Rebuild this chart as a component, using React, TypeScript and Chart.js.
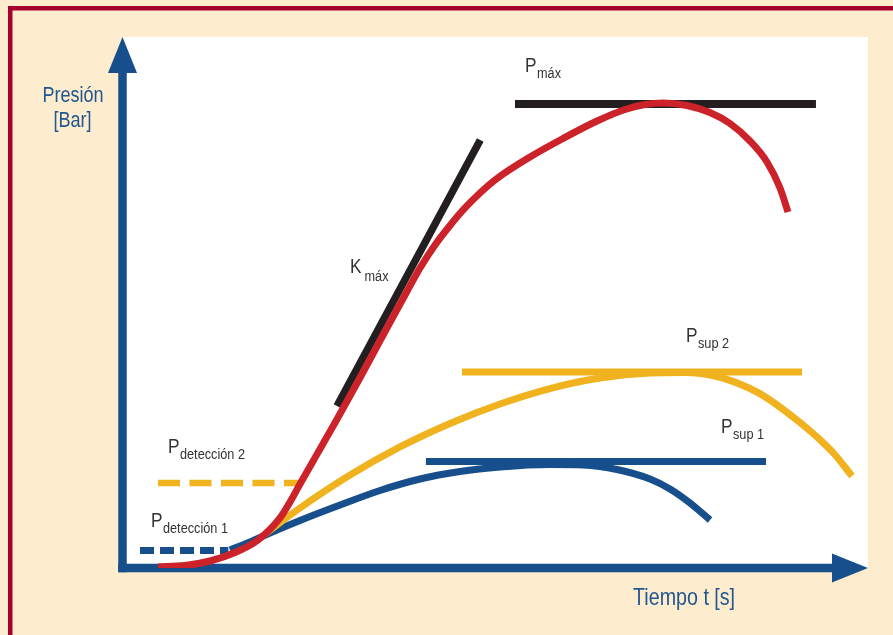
import React, { useEffect, useRef } from "react";
import { Chart, registerables } from "chart.js";

Chart.register(...registerables);

// ---- Data (time and pressure in relative units, 0..100) ----
const redTime = [4.76, 8.38, 11.74, 15.09, 18.18, 21.13, 22.47, 23.81, 28.64, 31.99, 35.21, 38.04, 39.91, 41.92, 43.93, 45.94, 47.95, 50.23, 54.66, 59.09, 63.65, 67.4, 70.09, 72.5, 75.72, 78.8, 81.49, 84.17, 86.45, 88.2, 89.27];
const redPressure = [0.19, 0.47, 1.32, 2.92, 5.27, 9.42, 12.43, 15.82, 27.68, 36.16, 44.54, 51.79, 56.5, 60.83, 64.5, 67.8, 70.62, 73.35, 77.4, 80.89, 84.18, 86.35, 87.29, 87.57, 87.1, 85.78, 83.71, 80.41, 76.46, 71.56, 67.04];

const yellowTime = [19.11, 23.81, 30.52, 37.22, 43.93, 50.64, 57.34, 64.05, 70.76, 75.45, 79.75, 84.17, 86.45, 90.88, 93.16, 95.3, 97.85];
const yellowPressure = [6.4, 11.3, 17.51, 22.79, 27.21, 30.89, 33.8, 35.78, 36.72, 36.82, 36.06, 33.8, 32.02, 27.4, 24.67, 21.75, 17.33];

const blueTime = [14.42, 17.1, 19.78, 23.81, 29.18, 34.54, 39.91, 45.27, 50.64, 57.34, 61.77, 66.33, 70.76, 73.44, 76.12, 78.81];
const bluePressure = [3.39, 4.9, 6.59, 8.95, 11.86, 14.6, 16.76, 18.17, 19.02, 19.49, 19.4, 18.55, 16.76, 14.88, 12.24, 9.04];

const kmaxTime = [28.77, 47.99];
const kmaxPressure = [30.51, 80.6];

const pmaxTime = [52.65, 93.02];
const pmaxLevel = 87.38;
const psup2Time = [45.54, 91.15];
const psup2Level = 36.91;
const psup1Time = [40.7, 86.32];
const psup1Level = 20.06;
const pdet2Time = [4.76, 23.81];
const pdet2Level = 16.01;
const pdet1Time = [2.35, 14.2];
const pdet1Level = 3.3;

const labelMain = ["P", "K", "P", "P", "P", "P"];
const labelSub = ["máx", "máx", "sup 2", "sup 1", "detección 2", "detección 1"];
const labelTime = [53.99, 30.52, 75.59, 80.28, 6.1, 3.82];
const labelPressure = [93.41, 55.56, 42.56, 25.42, 21.66, 7.72];

const yAxisTitle = ["Presión", "[Bar]"];
const xAxisTitle = "Tiempo t [s]";

// ---- Style ----
const BLUE = "#174F8C";
const RED = "#CC2229";
const YELLOW = "#F0B31F";
const BLACK = "#231F20";
const CREAM = "#FDEDCE";
const BORDER = "#A6002F";
const TEXT = "#333333";
const AXIS_TEXT = "#22568F";
const FONT = '"Liberation Sans", Arial, sans-serif';
const NARROW = 0.82;

const zip = (xs: number[], ys: number[]) => xs.map((x, i) => ({ x, y: ys[i] }));
const flat = (xs: number[], y: number) => xs.map((x) => ({ x, y }));

function narrowText(ctx: any, text: string, x: number, y: number, size: number, align: string) {
  ctx.save();
  ctx.font = `${size}px ${FONT}`;
  ctx.textAlign = align;
  ctx.textBaseline = "alphabetic";
  ctx.translate(x, y);
  ctx.scale(NARROW, 1);
  ctx.fillText(text, 0, 0);
  const w = ctx.measureText(text).width * NARROW;
  ctx.restore();
  return w;
}

const framePlugin = {
  id: "frame",
  beforeDraw(chart: any) {
    const { ctx, scales } = chart;
    const x = scales.x;
    const y = scales.y;
    ctx.save();
    ctx.fillStyle = CREAM;
    ctx.fillRect(0, 0, chart.width, chart.height);
    ctx.fillStyle = BORDER;
    ctx.fillRect(8, 6, chart.width - 8, 4.5);
    ctx.fillRect(8, 6, 4.5, chart.height - 6);
    ctx.fillStyle = "#FFFFFF";
    const l = x.getPixelForValue(0);
    const r = x.getPixelForValue(100);
    const t = y.getPixelForValue(100);
    const b = y.getPixelForValue(0);
    ctx.fillRect(l, t, r - l, b - t);
    ctx.restore();
  },
  beforeDatasetsDraw(chart: any) {
    const { ctx, scales } = chart;
    const x0 = scales.x.getPixelForValue(0);
    const x1 = scales.x.getPixelForValue(100);
    const y0 = scales.y.getPixelForValue(0);
    const y1 = scales.y.getPixelForValue(100);
    ctx.save();
    ctx.fillStyle = BLUE;
    const w = 8.5;
    const headLen = 36;
    const headHalf = 14.5;
    ctx.fillRect(x0 - w / 2, y1 + headLen - 1, w, y0 - y1 - headLen + w / 2 + 1);
    ctx.beginPath();
    ctx.moveTo(x0, y1);
    ctx.lineTo(x0 + headHalf, y1 + headLen);
    ctx.lineTo(x0 - headHalf, y1 + headLen);
    ctx.closePath();
    ctx.fill();
    ctx.fillRect(x0 - w / 2, y0 - w / 2, x1 - x0 - headLen + w / 2 + 1, w);
    ctx.beginPath();
    ctx.moveTo(x1, y0);
    ctx.lineTo(x1 - headLen, y0 - headHalf);
    ctx.lineTo(x1 - headLen, y0 + headHalf);
    ctx.closePath();
    ctx.fill();
    ctx.restore();
  },
  afterDatasetsDraw(chart: any) {
    const { ctx, scales } = chart;
    const sx = scales.x;
    const sy = scales.y;
    ctx.save();
    ctx.fillStyle = AXIS_TEXT;
    narrowText(ctx, yAxisTitle[0], sx.getPixelForValue(-6.64), sy.getPixelForValue(87.76), 22, "center");
    narrowText(ctx, yAxisTitle[1], sx.getPixelForValue(-6.7), sy.getPixelForValue(83.05), 22, "center");
    narrowText(ctx, xAxisTitle, sx.getPixelForValue(68.48), sy.getPixelForValue(-6.97), 24, "left");
    ctx.fillStyle = TEXT;
    labelMain.forEach((m, i) => {
      const px = sx.getPixelForValue(labelTime[i]);
      const py = sy.getPixelForValue(labelPressure[i]);
      const mw = narrowText(ctx, m, px, py, 21, "left");
      const isK = m === "K";
      narrowText(ctx, labelSub[i], px + mw + (isK ? 3 : 0.5), py + (isK ? 8 : 6), 15.5, "left");
    });
    ctx.restore();
  },
};

export default function App() {
  const ref = useRef<HTMLCanvasElement | null>(null);

  useEffect(() => {
    if (!ref.current) return;
    const line = (data: any[], color: string, width: number, dash: number[] = [], curved = true) => ({
      data,
      borderColor: color,
      backgroundColor: color,
      borderWidth: width,
      borderDash: dash,
      borderCapStyle: "butt",
      borderJoinStyle: "round",
      pointRadius: 0,
      fill: false,
      cubicInterpolationMode: curved ? "monotone" : "default",
      tension: 0,
    });
    const chart = new Chart(ref.current, {
      type: "line",
      data: {
        datasets: [
          line(zip(redTime, redPressure), RED, 7),
          line(zip(kmaxTime, kmaxPressure), BLACK, 7.5, [], false),
          line(flat(pmaxTime, pmaxLevel), BLACK, 8, [], false),
          line(flat(pdet2Time, pdet2Level), YELLOW, 6.5, [22, 9.5], false),
          line(zip(yellowTime, yellowPressure), YELLOW, 7),
          line(flat(psup2Time, psup2Level), YELLOW, 7, [], false),
          line(zip(blueTime, bluePressure), BLUE, 7),
          line(flat(psup1Time, psup1Level), BLUE, 7, [], false),
          line(flat(pdet1Time, pdet1Level), BLUE, 7, [14, 6], false),
        ] as any,
      },
      options: {
        responsive: false,
        maintainAspectRatio: false,
        animation: false,
        devicePixelRatio: 1,
        layout: { padding: { left: 122.5, right: 25, top: 37, bottom: 67 } },
        plugins: { legend: { display: false }, tooltip: { enabled: false } },
        events: [],
        scales: {
          x: { type: "linear", min: 0, max: 100, display: false },
          y: { type: "linear", min: 0, max: 100, display: false },
        },
      },
      plugins: [framePlugin],
    } as any);
    return () => chart.destroy();
  }, []);

  return (
    <canvas
      ref={ref}
      width={893}
      height={635}
      style={{ position: "fixed", left: 0, top: 0, width: 893, height: 635 }}
    />
  );
}
